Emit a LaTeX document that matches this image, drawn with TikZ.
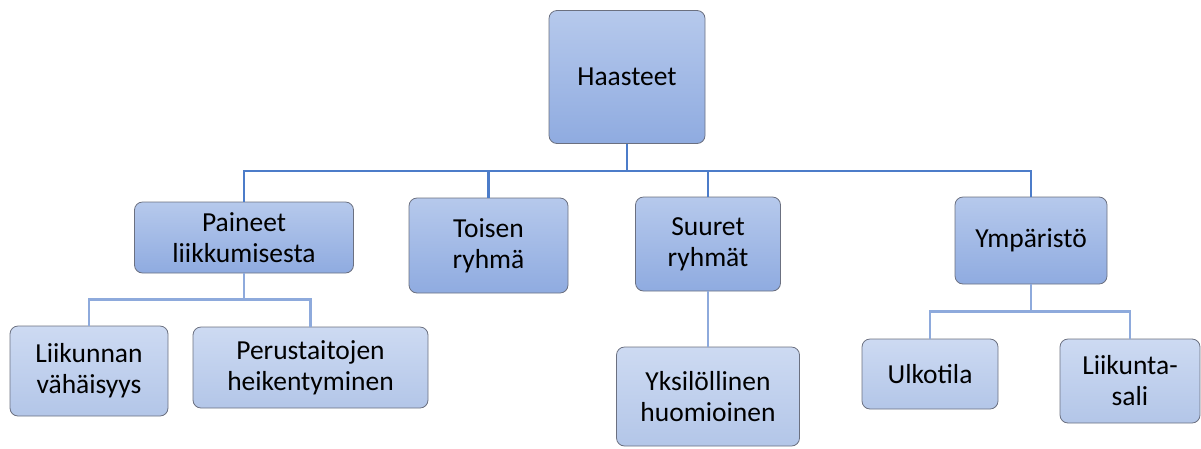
\documentclass[tikz,border=0pt]{standalone}
\usepackage{fontspec}
\setmainfont{Carlito}
\usepackage{tikz}

\definecolor{edgegray}{HTML}{6B7080}
\definecolor{maintop}{HTML}{B6C9EC}
\definecolor{mainbot}{HTML}{8FABE0}
\definecolor{subtop}{HTML}{CDDAF2}
\definecolor{subbot}{HTML}{B3C6E8}
\definecolor{mainline}{HTML}{4C7CC9}
\definecolor{subline}{HTML}{8EAADC}

\begin{document}
\begin{tikzpicture}[x=1pt,y=-1pt,
  mainbox/.style={draw=edgegray, line width=0.8pt, rounded corners=8pt,
    top color=maintop, bottom color=mainbot, align=center, inner sep=0pt,
    font=\fontsize{27.5}{31}\selectfont},
  subbox/.style={mainbox, top color=subtop, bottom color=subbot},
  mainlink/.style={draw=mainline, line width=2.8pt},
  sublink/.style={draw=subline, line width=2.5pt}]
 \useasboundingbox (0,0) rectangle (1201,448);
 % top
  \node[mainbox, minimum width=156pt, minimum height=133pt] (haasteet) at (627,77) {Haasteet};
 % first row
  \node[mainbox, minimum width=219pt, minimum height=71pt] (paineet) at (244,237.5) {Paineet\\liikkumisesta};
  \node[mainbox, minimum width=159pt, minimum height=95pt] (toisen) at (488.5,245.5) {Toisen\\ryhmä};
  \node[mainbox, minimum width=145pt, minimum height=94pt] (suuret) at (708,244) {Suuret\\ryhmät};
  \node[mainbox, minimum width=152pt, minimum height=87pt] (ymparisto) at (1031,240.5) {Ympäristö};
 % second row
  \node[subbox, minimum width=158pt, minimum height=90pt] (liikunnan) at (89,371) {Liikunnan\\vähäisyys};
  \node[subbox, minimum width=235pt, minimum height=81pt] (perustaidot) at (310.5,367.5) {Perustaitojen\\heikentyminen};
  \node[subbox, minimum width=183pt, minimum height=99pt] (yksilo) at (708,396.5) {Yksilöllinen\\huomioinen};
  \node[subbox, minimum width=136pt, minimum height=70pt] (ulkotila) at (930,374) {Ulkotila};
  \node[subbox, minimum width=140pt, minimum height=84pt] (sali) at (1130,381) {Liikunta-\\sali};
 % links
  \draw[mainlink] (haasteet.south) -- ++(0,27) -| (paineet.north);
  \draw[mainlink] (haasteet.south) -- ++(0,27) -| (toisen.north);
  \draw[mainlink] (haasteet.south) -- ++(0,27) -| (suuret.north);
  \draw[mainlink] (haasteet.south) -- ++(0,27) -| (ymparisto.north);
  \draw[sublink] (paineet.south) -- ++(0,26) -| (liikunnan.north);
  \draw[sublink] (paineet.south) -- ++(0,26) -| (perustaidot.north);
  \draw[sublink] (suuret.south) -- (yksilo.north);
  \draw[sublink] (ymparisto.south) -- ++(0,27) -| (ulkotila.north);
  \draw[sublink] (ymparisto.south) -- ++(0,27) -| (sali.north);
\end{tikzpicture}
\end{document}
